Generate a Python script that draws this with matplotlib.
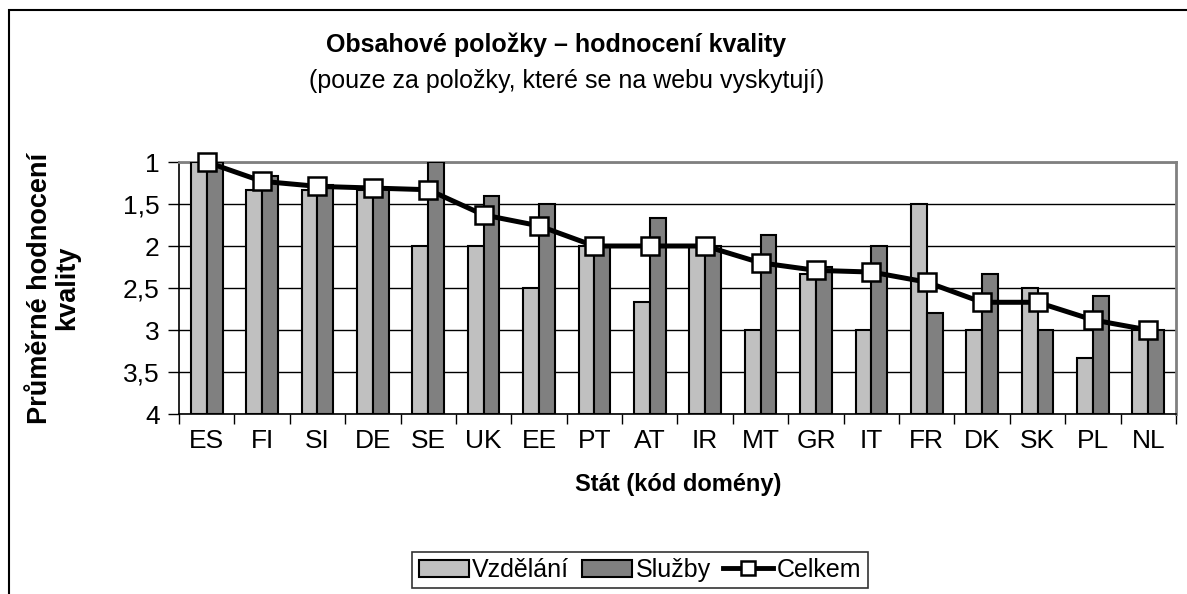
import numpy as np
import matplotlib.pyplot as plt
from matplotlib.patches import Rectangle

plt.rcParams['font.family'] = ['Liberation Sans', 'DejaVu Sans']

# data
states = ['ES', 'FI', 'SI', 'DE', 'SE', 'UK', 'EE', 'PT', 'AT', 'IR',
          'MT', 'GR', 'IT', 'FR', 'DK', 'SK', 'PL', 'NL']
vzdelani = [1.0, 1.33, 1.33, 1.33, 2.0, 2.0, 2.5, 2.0, 2.67, 2.0,
            3.0, 2.33, 3.0, 1.5, 3.0, 2.5, 3.33, 3.0]
sluzby = [1.0, 1.17, 1.27, 1.31, 1.0, 1.41, 1.5, 2.0, 1.67, 2.0,
          1.87, 2.25, 2.0, 2.8, 2.33, 3.0, 2.6, 3.0]
celkem = [1.0, 1.23, 1.29, 1.31, 1.33, 1.63, 1.76, 2.0, 2.0, 2.0,
          2.2, 2.29, 2.31, 2.43, 2.67, 2.67, 2.88, 3.0]
yticks = [1, 1.5, 2, 2.5, 3, 3.5, 4]
ytick_labels = ['1', '1,5', '2', '2,5', '3', '3,5', '4']

fig = plt.figure(figsize=(11.87, 5.94), dpi=100)
ax = fig.add_axes([179 / 1187, 1 - 414 / 594, (1176 - 179) / 1187, (414 - 162) / 594])

# outer chart border (clipped at right and bottom like the reference)
fig.patches.append(Rectangle((8.5 / 1187, -0.05), 1.2, 1 - 9.5 / 594 + 0.05,
                             transform=fig.transFigure, fill=False,
                             edgecolor='black', linewidth=1.5))

x = np.arange(len(states))
w = 1 / 3.5
base = 4
b1 = ax.bar(x - w / 2, np.array(vzdelani) - base, bottom=base, width=w,
            color='#C0C0C0', edgecolor='black', linewidth=1.5, label='Vzdělání', zorder=3)
b2 = ax.bar(x + w / 2, np.array(sluzby) - base, bottom=base, width=w,
            color='#808080', edgecolor='black', linewidth=1.5, label='Služby', zorder=3)
ln, = ax.plot(x, celkem, color='black', linewidth=3.6, marker='s', markersize=13,
              markerfacecolor='white', markeredgecolor='black', markeredgewidth=1.8,
              label='Celkem', zorder=4, clip_on=False)

ax.set_xlim(-0.5, len(states) - 0.5)
ax.set_ylim(4, 1)
ax.set_yticks(yticks)
ax.set_yticklabels(ytick_labels)
ax.set_xticks(x)
ax.set_xticklabels(states)
ax.set_xticks(np.arange(len(states) + 1) - 0.5, minor=True)
ax.tick_params(axis='x', which='major', length=0, pad=11, labelsize=19)
ax.tick_params(axis='x', which='minor', length=7, width=1, direction='out')
ax.tick_params(axis='y', length=8, width=1, direction='out', pad=6, labelsize=19)

ax.yaxis.grid(True, color='black', linewidth=1, zorder=0)
ax.set_axisbelow(True)
for side in ['left', 'bottom']:
    ax.spines[side].set_color('black')
    ax.spines[side].set_linewidth(1.2)
for side in ['top', 'right']:
    ax.spines[side].set_color('#808080')
    ax.spines[side].set_linewidth(2)

fig.text(556 / 1187, 1 - 45 / 594, 'Obsahové položky – hodnocení kvality',
         ha='center', va='center', fontsize=18, fontweight='bold')
fig.text(567 / 1187, 1 - 81 / 594, '(pouze za položky, které se na webu vyskytují)',
         ha='center', va='center', fontsize=18)
fig.text(54 / 1187, 1 - 288 / 594, 'Průměrné hodnocení\nkvality', rotation=90,
         ha='center', va='center', fontsize=19.5, fontweight='bold', linespacing=1.05)
fig.text(678 / 1187, 1 - 484 / 594, 'Stát (kód domény)',
         ha='center', va='center', fontsize=17, fontweight='bold')

leg = fig.legend([b1, b2, ln], ['Vzdělání', 'Služby', 'Celkem'], loc='center',
                 bbox_to_anchor=(640 / 1187, 1 - 570 / 594), ncol=3,
                 frameon=True, fancybox=False, edgecolor='black', fontsize=18,
                 handlelength=2.0, handleheight=0.65, handletextpad=0.15,
                 columnspacing=0.5, borderpad=0.25)
leg.get_frame().set_linewidth(1.2)
leg.legend_handles[2].set_markersize(10)
leg.legend_handles[2].set_linewidth(3.5)

fig.savefig('out.png', dpi=100)
